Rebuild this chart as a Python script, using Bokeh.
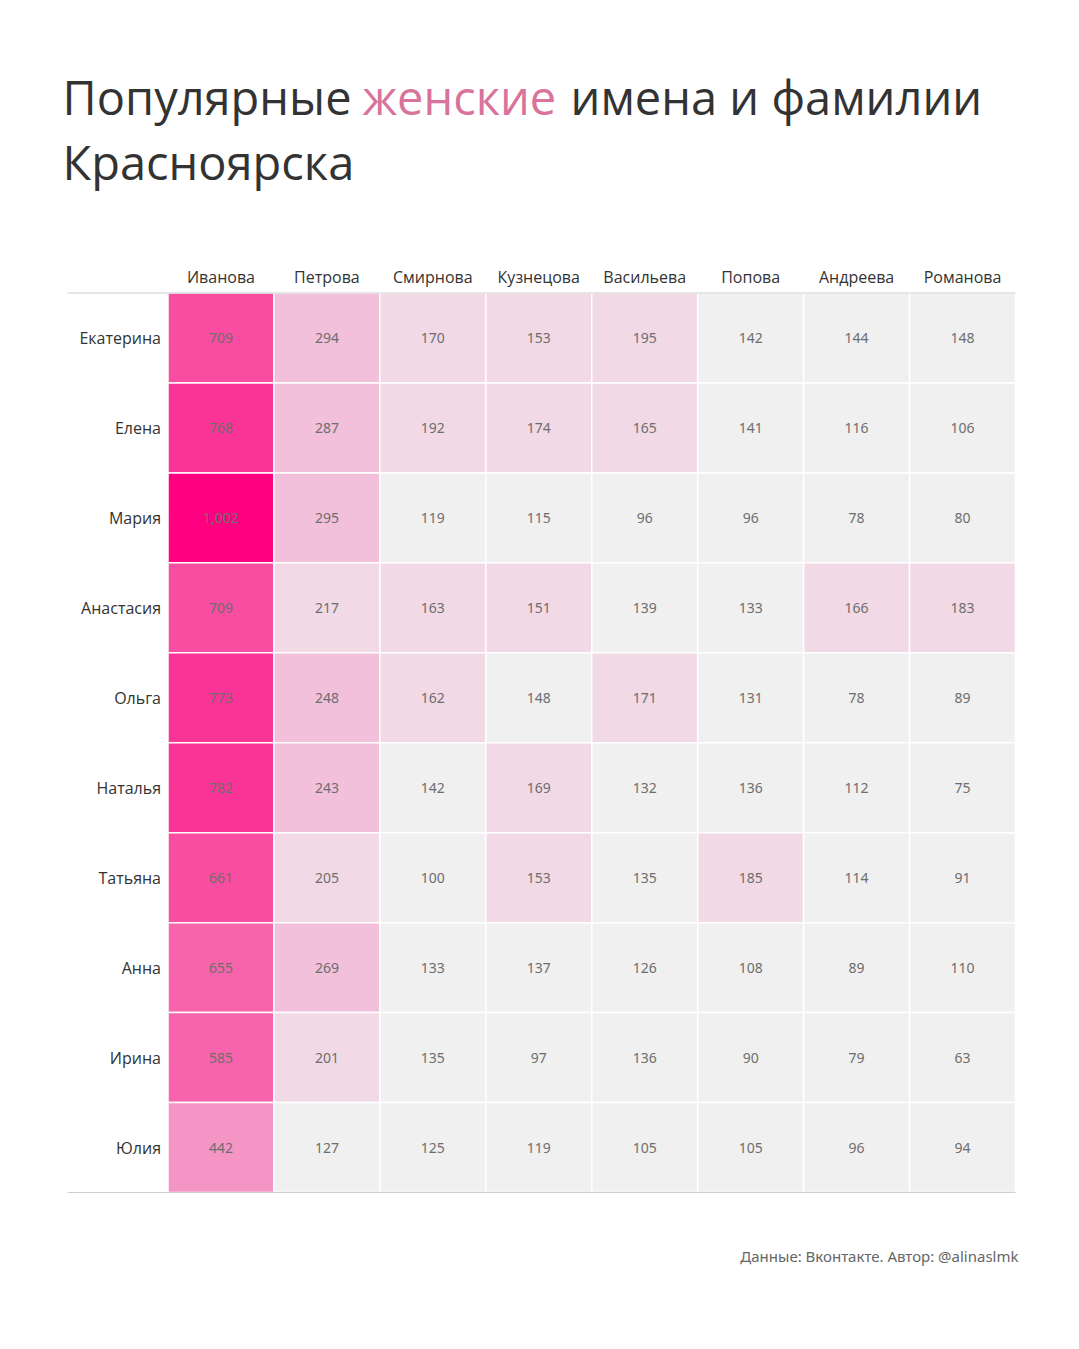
from bokeh.plotting import figure
from bokeh.models import Range1d, ColumnDataSource
from bokeh.core.properties import value
from bokeh.embed import file_html
from bokeh.resources import INLINE

# ---------------- data ----------------
names = ["Екатерина", "Елена", "Мария", "Анастасия", "Ольга",
         "Наталья", "Татьяна", "Анна", "Ирина", "Юлия"]
surnames = ["Иванова", "Петрова", "Смирнова", "Кузнецова",
            "Васильева", "Попова", "Андреева", "Романова"]

ivanova   = [709, 768, 1002, 709, 773, 782, 661, 655, 585, 442]
petrova   = [294, 287, 295, 217, 248, 243, 205, 269, 201, 127]
smirnova  = [170, 192, 119, 163, 162, 142, 100, 133, 135, 125]
kuznetsova = [153, 174, 115, 151, 148, 169, 153, 137, 97, 119]
vasilyeva = [195, 165, 96, 139, 171, 132, 135, 126, 136, 105]
popova    = [142, 141, 96, 133, 131, 136, 185, 108, 90, 105]
andreeva  = [144, 116, 78, 166, 78, 112, 114, 89, 79, 96]
romanova  = [148, 106, 80, 183, 89, 75, 91, 110, 63, 94]
columns = [ivanova, petrova, smirnova, kuznetsova, vasilyeva, popova, andreeva, romanova]

# stepped colour scale (thresholds -> colours)
thresholds = [150, 230, 400, 500, 660, 750, 900]
palette = ["#F0F0F0", "#F2D9E6", "#F2C0DA", "#F595C5", "#F764AC",
           "#F84DA0", "#FA3396", "#FF0080"]

def colour(v):
    i = 0
    while i < len(thresholds) and v >= thresholds[i]:
        i += 1
    return palette[i]

# ---------------- layout helpers ----------------
W, H = 1063, 1333
GX0, GX1 = 167.5, 1015    # grid left/right (px)
GY0, GY1 = 292.5, 1192    # grid top/bottom (px)
CW = (GX1 - GX0) / len(surnames)
RH = (GY1 - GY0) / len(names)

def dx(cx):
    return (cx - GX0) / CW - 0.5

def dy(cy):
    return (cy - GY0) / RH - 0.5

p = figure(width=W, height=H, output_backend="svg", toolbar_location=None,
           x_range=Range1d(dx(0), dx(W)), y_range=Range1d(dy(H), dy(0)),
           min_border=0, min_border_left=0, min_border_right=0,
           min_border_top=0, min_border_bottom=0)
p.axis.visible = False
p.grid.visible = False
p.outline_line_color = None
p.background_fill_color = "white"
p.border_fill_color = "white"

# cells
xs, ys, vals, cols, labels = [], [], [], [], []
for ci, col in enumerate(columns):
    for ri, v in enumerate(col):
        xs.append(ci)
        ys.append(ri)
        vals.append(v)
        cols.append(colour(v))
        labels.append(f"{v:,}")
src = ColumnDataSource(dict(x=xs, y=ys, v=vals, c=cols, t=labels))
p.rect(x="x", y="y", width=1, height=1, source=src, fill_color="c",
       line_color="white", line_width=1.5)
p.text(x="x", y="y", text="t", source=src, text_align="center",
       text_baseline="middle", text_font=value("Noto Sans"),
       text_font_size="14px", text_color="#6e6e6e")

# row labels
p.text(x=[-0.5] * len(names), y=list(range(len(names))), text=names,
       x_offset=-7, text_align="right", text_baseline="middle",
       text_font=value("Open Sans"), text_font_size="16px", text_color="#333333")

# column headers
p.text(x=list(range(len(surnames))), y=[-0.5] * len(surnames), text=surnames,
       y_offset=-16, text_align="center", text_baseline="alphabetic",
       text_font=value("Open Sans"), text_font_size="16px", text_color="#333333")

# top / bottom rules
p.segment(x0=[dx(67), dx(67)], x1=[len(surnames) - 0.5] * 2,
          y0=[-0.5, len(names) - 0.5], y1=[-0.5, len(names) - 0.5],
          line_color="#CFCFCF", line_width=1)

# title
tfont = value("Open Sans")
tsize = "47px"
p.text(x=[dx(62)], y=[dy(96)], text=["Популярные"], text_font=tfont,
       text_font_size=tsize, text_color="#333333", text_baseline="alphabetic")
p.text(x=[dx(362)], y=[dy(96)], text=["женские"], text_font=tfont,
       text_font_size=tsize, text_color="#D9739B", text_baseline="alphabetic")
p.text(x=[dx(570)], y=[dy(96)], text=["имена и фамилии"], text_font=tfont,
       text_font_size=tsize, text_color="#333333", text_baseline="alphabetic")
p.text(x=[dx(62)], y=[dy(161)], text=["Красноярска"], text_font=tfont,
       text_font_size=tsize, text_color="#333333", text_baseline="alphabetic")

# footer
p.text(x=[dx(1018)], y=[dy(1255)], text=["Данные: Вконтакте. Автор: @alinaslmk"],
       text_font=value("Noto Sans"), text_font_size="15px", text_color="#666666",
       text_align="right", text_baseline="alphabetic")

open("out.html", "w").write(file_html(p, INLINE))
